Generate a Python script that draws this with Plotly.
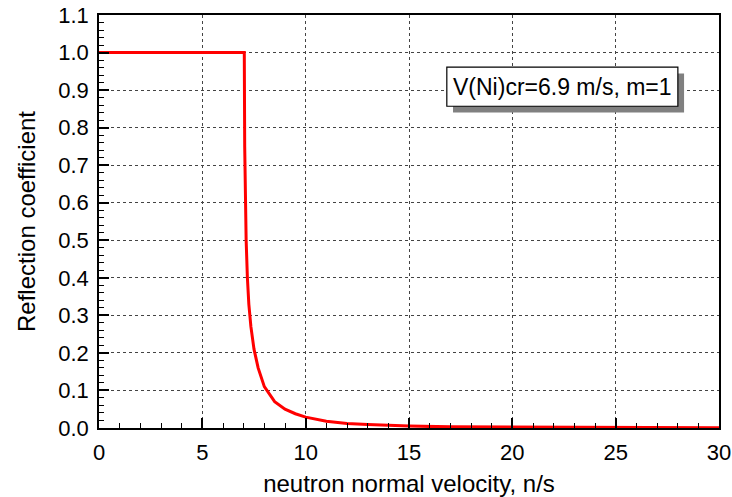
import plotly.graph_objects as go

velocity = [0, 7.03, 7.05, 7.08, 7.12, 7.18, 7.25, 7.35, 7.5, 7.7, 8.0, 8.5, 9.0, 9.5,
            10, 11, 12, 13, 14, 15, 17, 20, 25, 30]
reflection = [1.0, 1.0, 0.75, 0.62, 0.50, 0.40, 0.33, 0.27, 0.21, 0.16, 0.11, 0.07, 0.05, 0.038,
              0.029, 0.018, 0.012, 0.009, 0.007, 0.005, 0.003, 0.002, 0.001, 0.0005]
label_text = "V(Ni)cr=6.9 m/s, m=1"
x_title = "neutron normal velocity, n/s"
y_title = "Reflection coefficient"

FONT = "Liberation Sans, Arial, sans-serif"

fig = go.Figure()
fig.add_trace(go.Scatter(x=velocity, y=reflection, mode="lines",
                         line=dict(color="#ff0000", width=3), showlegend=False))

axis_common = dict(
    automargin=False,
    showline=True, linecolor="black", linewidth=1.5, mirror=True,
    ticks="inside", ticklen=10, tickwidth=1.5, tickcolor="black",
    showgrid=True, gridcolor="#444444", griddash="dot", gridwidth=1,
    zeroline=False, tickfont=dict(family=FONT, size=22, color="black"),
)

fig.update_xaxes(range=[0, 30], dtick=5, tick0=0,
                 minor=dict(ticks="inside", dtick=1, ticklen=5, tickcolor="black", tickwidth=1.2, showgrid=False),
                 title=dict(text=x_title, font=dict(family=FONT, size=24, color="black"), standoff=16),
                 ticklabelstandoff=4,
                 **axis_common)
fig.update_yaxes(range=[0, 1.1], dtick=0.1, tick0=0, tickformat=".1f",
                 minor=dict(ticks="inside", dtick=0.02, ticklen=5, tickcolor="black", tickwidth=1.2, showgrid=False),
                 title=dict(text=y_title, font=dict(family=FONT, size=24, color="black"), standoff=16),
                 ticklabelstandoff=4,
                 **axis_common)

# annotation box with shadow
bx0, bx1, by0, by1 = 16.83, 28.01, 0.857, 0.961
fig.add_shape(type="rect", xref="x", yref="y", x0=bx0 + 0.3, x1=bx1 + 0.3, y0=by0 - 0.017, y1=by1 - 0.017,
              fillcolor="#808080", line=dict(width=0), layer="above")
fig.add_shape(type="rect", xref="x", yref="y", x0=bx0, x1=bx1, y0=by0, y1=by1,
              fillcolor="white", line=dict(color="black", width=1.2), layer="above")
fig.add_annotation(x=(bx0 + bx1) / 2, y=(by0 + by1) / 2, xref="x", yref="y", text=label_text,
                   showarrow=False, font=dict(family=FONT, size=23, color="black"))

fig.update_layout(width=732, height=497, margin=dict(l=99, r=13, t=15, b=69),
                  paper_bgcolor="white", plot_bgcolor="white")

fig.write_html("out.html", config={"displayModeBar": False},
               post_script="document.body.style.margin='0';")
